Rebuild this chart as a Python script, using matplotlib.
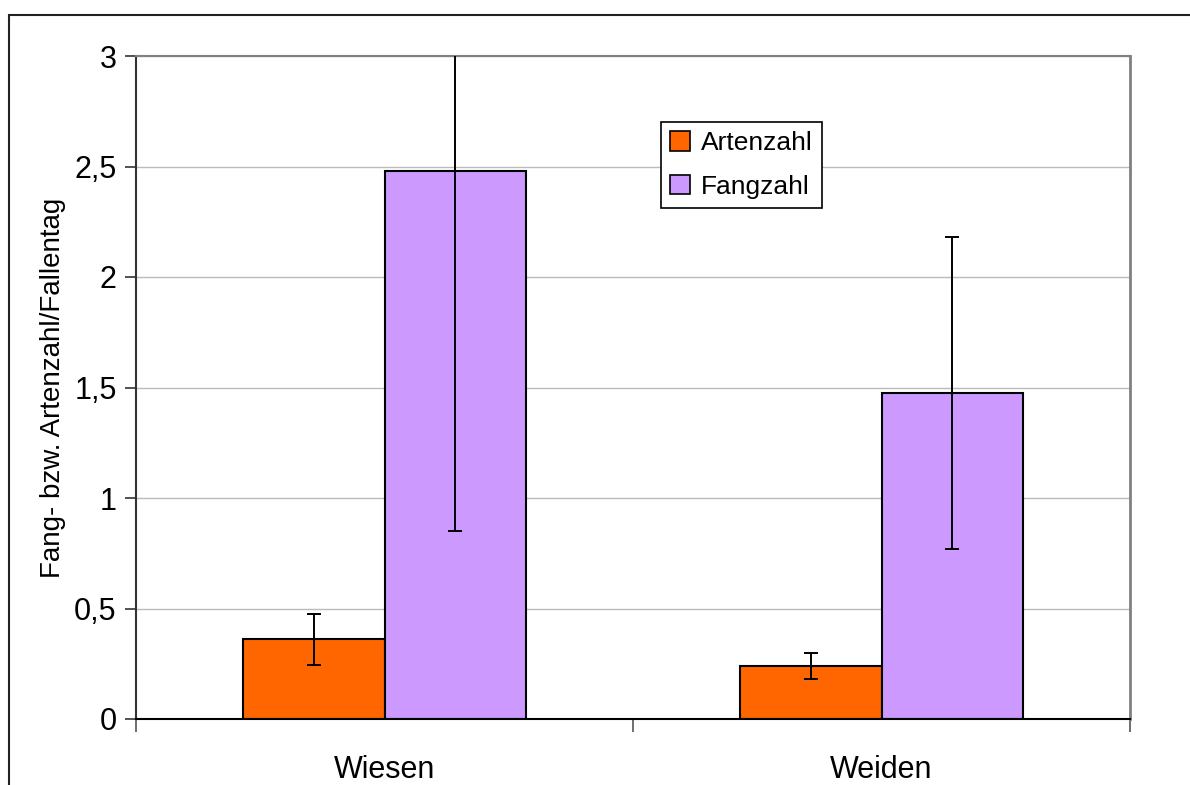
import numpy as np
import matplotlib
matplotlib.use("Agg")
from matplotlib import pyplot as plt
from matplotlib.patches import Rectangle

plt.rcParams['font.family'] = ['Liberation Sans', 'DejaVu Sans']

categories = ['Wiesen', 'Weiden']
series = ['Artenzahl', 'Fangzahl']
artenzahl = [0.36, 0.24]
artenzahl_err = [0.115, 0.06]
fangzahl = [2.48, 1.475]
fangzahl_err = [1.63, 0.705]
colors = ['#FF6600', '#CC99FF']
yticks = [0, 0.5, 1, 1.5, 2, 2.5, 3]
ytick_labels = ['0', '0,5', '1', '1,5', '2', '2,5', '3']

fig = plt.figure(figsize=(11.9, 7.85), dpi=100)
ax = fig.add_axes([136 / 1190, 1 - 719 / 785, (1130 - 136) / 1190, (719 - 56) / 785])

# outer frame (cut off at right and bottom like the source screenshot)
fig.patches.append(Rectangle((9 / 1190, -0.1), 1.2, 1 - 15 / 785 + 0.1,
                             transform=fig.transFigure, fill=False,
                             edgecolor='#222222', linewidth=1.5))

x = np.arange(len(categories))
w = 0.285
vals = [artenzahl, fangzahl]
errs = [artenzahl_err, fangzahl_err]
for i, (name, v, e, c) in enumerate(zip(series, vals, errs, colors)):
    pos = x + (i - 0.5) * w
    ax.bar(pos, v, width=w, color=c, edgecolor='black', linewidth=1.5,
           label=name, zorder=2)
    ax.errorbar(pos, v, yerr=e, fmt='none', ecolor='black', elinewidth=1.4,
                capsize=5, capthick=1.4, zorder=3, clip_on=True)

ax.set_xlim(-0.5, 1.5)
ax.set_ylim(0, 3)
ax.set_yticks(yticks)
ax.set_yticklabels(ytick_labels)
ax.set_xticks([-0.5, 0.5, 1.5])
ax.set_xticklabels([])
ax.set_xticks(x, minor=True)
ax.set_xticklabels(categories, minor=True)
ax.tick_params(axis='x', which='minor', length=0, pad=26, labelsize=22)
ax.tick_params(axis='x', which='major', length=9, direction='out',
               color='#555555', width=1.2)
ax.tick_params(axis='y', length=8, direction='out', labelsize=22, pad=6,
               color='#333333', width=1.2)
ax.yaxis.grid(True, color='#bbbbbb', linewidth=1)
ax.set_axisbelow(True)

ax.spines['top'].set_color('#808080')
ax.spines['right'].set_color('#808080')
ax.spines['top'].set_linewidth(1.5)
ax.spines['right'].set_linewidth(2)
ax.spines['left'].set_color('#333333')
ax.spines['left'].set_linewidth(1.5)
ax.spines['bottom'].set_color('black')
ax.spines['bottom'].set_linewidth(1.5)

ax.set_ylabel('Fang- bzw. Artenzahl/Fallentag', fontsize=20, labelpad=6)

leg = ax.legend(loc='upper left', bbox_to_anchor=((661 - 136) / 994, 1 - (122 - 56) / 663),
                fontsize=19, frameon=True, fancybox=False, edgecolor='black',
                handlelength=0.75, handleheight=0.75, handletextpad=0.4,
                borderpad=0.35, labelspacing=0.75, borderaxespad=0)
leg.get_frame().set_linewidth(1.2)
leg.get_frame().set_alpha(1)
for h in leg.legend_handles:
    h.set_linewidth(1.2)

fig.savefig('out.png', dpi=100)
